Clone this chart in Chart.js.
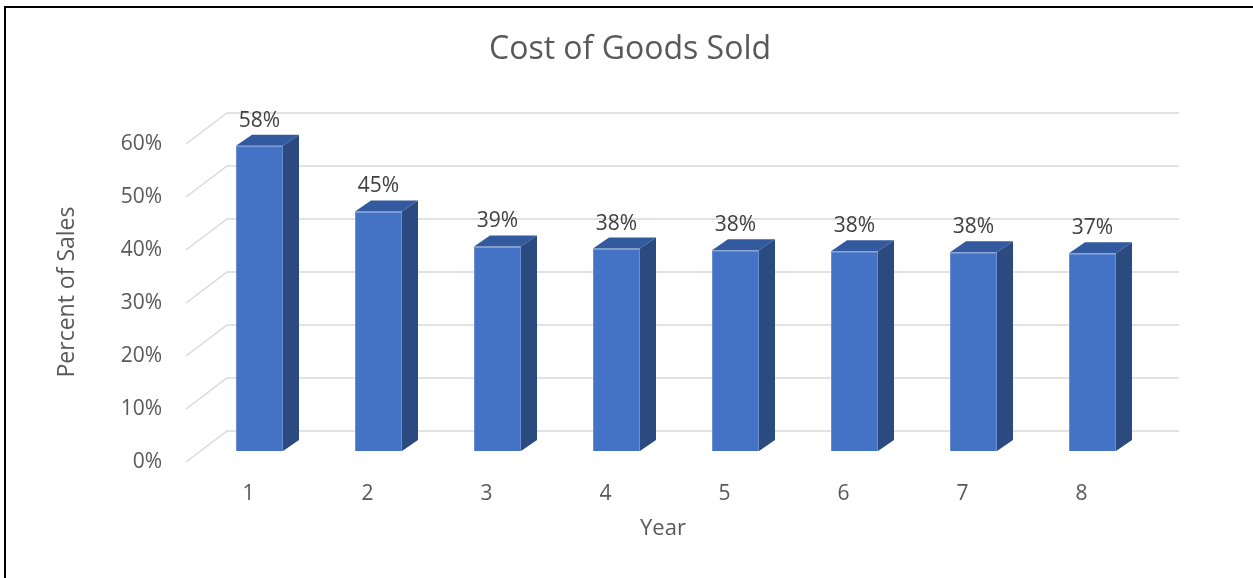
<!DOCTYPE html>
<html>
<head>
<meta charset="utf-8">
<script src="https://cdn.jsdelivr.net/npm/chart.js@4.4.1/dist/chart.umd.min.js"></script>
<style>
  html, body { margin: 0; padding: 0; background: #fff; overflow: hidden; }
  #wrap { position: relative; width: 1253px; height: 578px; }
  #frame { position: absolute; left: 4px; top: 6px; right: -4px; bottom: -4px;
           border-top: 2px solid #000; border-left: 2px solid #000; pointer-events: none; }
</style>
</head>
<body>
<div id="wrap">
  <canvas id="chart"></canvas>
  <div id="frame"></div>
</div>
<script>
// ─── DATA ─────────────────────────────────────────────────────────────────────
const years = ['1', '2', '3', '4', '5', '6', '7', '8'];
const cogsPercent = [57.6, 45.2, 38.6, 38.2, 37.9, 37.7, 37.5, 37.3];
const yMin = 0;
const yMax = 60;
const yStep = 10;

// ─── LOOK ─────────────────────────────────────────────────────────────────────
const FONT = "'Open Sans', 'Liberation Sans', sans-serif";
const TEXT = '#595959';
const LABEL = '#404040';
const FRONT = '#4472C4';
const TOP = '#335A9F';
const SIDE = '#2A4A80';
const GRID = '#d9d9d9';

// offsets of the fake 3D walls relative to the column front plane
const floorFront = { dx: -14, dy: 11 };
const backWall = { dx: 27, dy: -20 };
const colDepth = { dx: 16, dy: -11 };

const fakeDepth = {
  id: 'fakeDepth',
  beforeDatasetsDraw(chart) {
    const { ctx, chartArea: a, scales: { y } } = chart;
    ctx.save();
    ctx.strokeStyle = GRID;
    ctx.lineWidth = 1.5;
    y.ticks.forEach(t => {
      const py = y.getPixelForValue(t.value);
      ctx.beginPath();
      ctx.moveTo(a.left + floorFront.dx, py + floorFront.dy);
      ctx.lineTo(a.left + backWall.dx, py + backWall.dy);
      ctx.lineTo(a.right + backWall.dx, py + backWall.dy);
      ctx.stroke();
    });
    ctx.restore();
  },
  afterDatasetsDraw(chart) {
    const { ctx } = chart;
    const meta = chart.getDatasetMeta(0);
    const { dx, dy } = colDepth;
    ctx.save();
    meta.data.forEach((bar, i) => {
      const { x, y, base, width } = bar.getProps(['x', 'y', 'base', 'width'], true);
      const l = x - width / 2;
      const r = x + width / 2;

      ctx.fillStyle = TOP;
      ctx.beginPath();
      ctx.moveTo(l, y);
      ctx.lineTo(l + dx, y + dy);
      ctx.lineTo(r + dx, y + dy);
      ctx.lineTo(r, y);
      ctx.closePath();
      ctx.fill();

      ctx.fillStyle = SIDE;
      ctx.beginPath();
      ctx.moveTo(r, y);
      ctx.lineTo(r + dx, y + dy);
      ctx.lineTo(r + dx, base + dy);
      ctx.lineTo(r, base);
      ctx.closePath();
      ctx.fill();

      ctx.fillStyle = LABEL;
      ctx.font = `21px ${FONT}`;
      ctx.textAlign = 'center';
      ctx.textBaseline = 'middle';
      ctx.fillText(Math.round(cogsPercent[i]) + '%', x, y - 25);
    });
    ctx.restore();
  },
  afterDraw(chart) {
    const { ctx } = chart;
    ctx.save();
    ctx.fillStyle = TEXT;
    ctx.textAlign = 'center';
    ctx.textBaseline = 'middle';
    ctx.font = `32px ${FONT}`;
    ctx.fillText('Cost of Goods Sold', 630, 50);
    ctx.font = `22px ${FONT}`;
    ctx.fillText('Year', 663, 529);
    ctx.restore();
  }
};

new Chart(document.getElementById('chart'), {
  type: 'bar',
  data: {
    labels: years,
    datasets: [{
      label: 'Cost of Goods Sold',
      data: cogsPercent,
      backgroundColor: FRONT,
      borderColor: '#6a8fd3',
      borderWidth: 1,
      barPercentage: 0.395,
      categoryPercentage: 1
    }]
  },
  options: {
    responsive: true,
    maintainAspectRatio: false,
    animation: false,
    layout: { padding: { top: 133, right: 101, bottom: 0, left: 0 } },
    plugins: {
      legend: { display: false },
      tooltip: { enabled: false }
    },
    scales: {
      x: {
        grid: { display: false },
        border: { display: false },
        ticks: {
          color: TEXT,
          font: { family: FONT, size: 21 },
          padding: 22,
          labelOffset: -11,
          maxRotation: 0
        },
        afterFit(scale) { scale.height = 127; }
      },
      y: {
        min: yMin,
        max: yMax,
        grid: { display: false },
        border: { display: false },
        ticks: {
          stepSize: yStep,
          color: TEXT,
          font: { family: FONT, size: 21 },
          padding: 30,
          labelOffset: 11,
          callback: v => v + '%'
        },
        title: {
          display: true,
          text: 'Percent of Sales',
          color: TEXT,
          font: { family: FONT, size: 23 },
          padding: { top: 54, bottom: 0 }
        },
        afterFit(scale) { scale.width = 200; }
      }
    }
  },
  plugins: [fakeDepth]
});
</script>
</body>
</html>
